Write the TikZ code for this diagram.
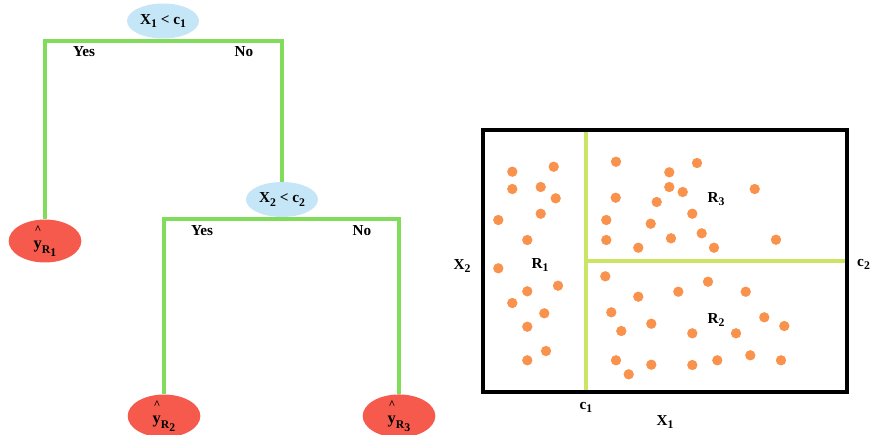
\documentclass[tikz,border=0pt]{standalone}
\usepackage{fontspec}
\setmainfont{Liberation Serif}
\usetikzlibrary{shapes.geometric}

\definecolor{treegreen}{RGB}{128,220,90}
\definecolor{splitgreen}{RGB}{202,228,100}
\definecolor{leafred}{RGB}{246,90,76}
\definecolor{nodeblue}{RGB}{197,230,247}
\definecolor{dotorange}{RGB}{248,146,76}

\newcommand{\lowidx}[1]{\raisebox{-0.45ex}{\fontsize{10}{10}\selectfont #1}}
\newcommand{\deepidx}[1]{\raisebox{-0.8ex}{\fontsize{10}{10}\selectfont #1}}
\newcommand{\yhatR}[1]{\rlap{\raisebox{2.1ex}{\hspace{0.05em}\fontsize{10}{10}\selectfont\textasciicircum}}{\fontsize{14}{14}\selectfont y}\deepidx{R\lowidx{#1}}}

\tikzset{
  lbl/.style={font=\fontsize{13}{15}\selectfont\bfseries, inner sep=0pt},
  split/.style={ellipse, fill=nodeblue, minimum width=2.16cm, minimum height=1.05cm, inner sep=0pt, lbl},
  leaf/.style={ellipse, fill=leafred, minimum width=2.18cm, minimum height=1.08cm, inner sep=0pt, lbl},
  branch/.style={draw=treegreen, line width=2.8pt},
  cut/.style={draw=splitgreen, line width=2.8pt},
  dot/.style={fill=dotorange}
}

\begin{document}
\begin{tikzpicture}[x=0.03cm, y=-0.03cm]
\useasboundingbox (0,0) rectangle (870,434);

% ---------- Tree ----------
\node[split] (root) at (163,21) {X\lowidx{1} < c\lowidx{1}};
\node[split] (second) at (282,199.5) {X\lowidx{2} < c\lowidx{2}};
\node[leaf] (leafone) at (45,241) {\yhatR{1}};
\node[leaf] (leaftwo) at (164,416) {\yhatR{2}};
\node[leaf] (leafthree) at (399,416) {\yhatR{3}};

\coordinate (barone) at (163,41);
\coordinate (bartwo) at (282,219);

\draw[branch] (leafone.north) |- (barone) -| (second.north);
\draw[branch] (leaftwo.north) |- (bartwo) -| (leafthree.north);

\node[lbl] (yesone) at (84,52) {Yes};
\node[lbl] (noone) at (244,52) {No};
\node[lbl] (yestwo) at (202,231) {Yes};
\node[lbl] (notwo) at (362,231) {No};


% ---------- Feature space ----------
\foreach \px/\py in {512.3/171.7, 553.7/166.7, 512.3/189, 540.7/187, 555.7/198.3,
  540.7/213.7, 498.3/220, 527.3/240, 498.3/268.3, 558/285.7, 527.3/291.3,
  512.3/303, 544.3/313.3, 527.3/326.7, 546/351, 527.3/360.3,
  616/161.7, 697/163, 669.3/172.3, 669.3/187, 682.7/192, 754.7/189,
  615.7/197.7, 656.7/202, 692.3/213.7, 606.3/220, 650.7/223.7, 701.7/233.3,
  606.3/240, 671/238.3, 638.3/247.7, 714/247.7, 776/239.7,
  605.3/276.3, 708/281.7, 638.3/296.7, 678.3/291.7, 745.7/291.7, 611.3/312.3,
  764.3/317.3, 651.3/323.7, 784.3/326, 621.3/331, 692.3/333.3, 736/333.3,
  616/360.3, 651.3/364.7, 692.3/365, 717.3/360.3, 750.3/355.3, 781/360.3,
  628.7/374.3}
  \fill[dot] (\px,\py) circle (0.155cm);

\coordinate (cutbottom) at (586,393);
\coordinate (cuttop) at (586,130);
\coordinate (cutleft) at (586,261);
\coordinate (cutright) at (847,261);
\draw[cut] (cutbottom) -- (cuttop);
\draw[cut] (cutleft) -- (cutright);

\draw[line width=3pt] (483,130) rectangle (847,392);

\node[lbl] (regone) at (540,265) {R\lowidx{1}};
\node[lbl] (regthree) at (716,199) {R\lowidx{3}};
\node[lbl] (regtwo) at (716,320) {R\lowidx{2}};

\node[lbl] (cone) at (586,407) {c\lowidx{1}};
\node[lbl, anchor=west] (ctwo) at (857,264) {c\lowidx{2}};
\node[lbl] (xone) at (665,422) {X\lowidx{1}};
\node[lbl] (xtwo) at (462,266) {X\lowidx{2}};

\end{tikzpicture}
\end{document}
